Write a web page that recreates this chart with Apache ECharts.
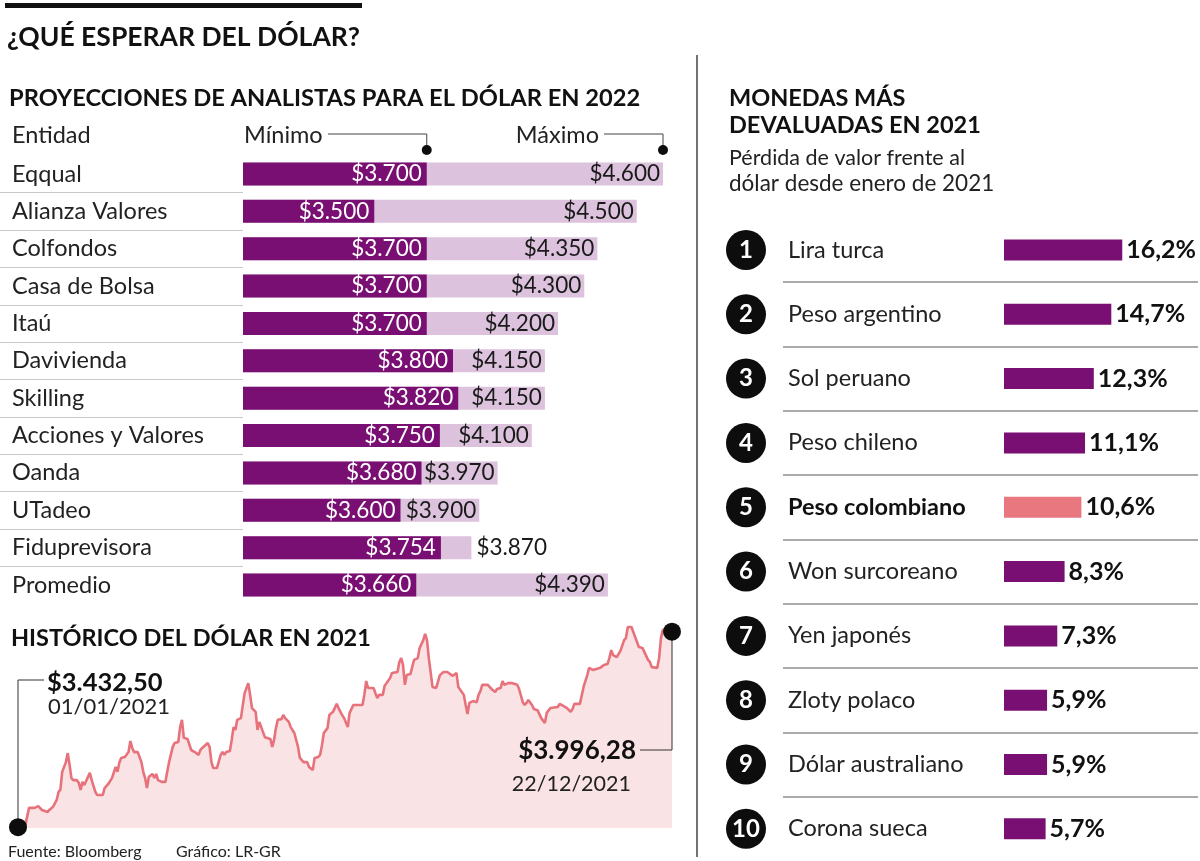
<!DOCTYPE html>
<html>
<head>
<meta charset="utf-8">
<script src="https://cdn.jsdelivr.net/npm/echarts@6/dist/echarts.min.js"></script>
<style>
  html, body { margin: 0; padding: 0; background: #ffffff; }
  #chart { width: 1200px; height: 861px; }
</style>
</head>
<body>
<div id="chart"></div>
<script>
// ---------- DATA ----------
const projEntities = ['Eqqual', 'Alianza Valores', 'Colfondos', 'Casa de Bolsa', 'Itaú', 'Davivienda', 'Skilling', 'Acciones y Valores', 'Oanda', 'UTadeo', 'Fiduprevisora', 'Promedio'];
const projMin = [3700, 3500, 3700, 3700, 3700, 3800, 3820, 3750, 3680, 3600, 3754, 3660];
const projMax = [4600, 4500, 4350, 4300, 4200, 4150, 4150, 4100, 3970, 3900, 3870, 4390];

const currencies = ['Lira turca', 'Peso argentino', 'Sol peruano', 'Peso chileno', 'Peso colombiano', 'Won surcoreano', 'Yen japonés', 'Zloty polaco', 'Dólar australiano', 'Corona sueca'];
const devaluation = [16.2, 14.7, 12.3, 11.1, 10.6, 8.3, 7.3, 5.9, 5.9, 5.7];
const highlightCurrency = 'Peso colombiano';

// Historical USD/COP 2021 (day of year, value)
const histDays = [1, 5, 7, 10, 12, 14, 17, 18, 20, 21, 22, 23, 24, 25, 27, 28, 29, 30, 31, 33, 34, 35, 36, 37, 38, 40, 41, 43, 44, 47, 48, 50, 52, 54, 55, 56, 57, 59, 61, 62, 63, 64, 66, 68, 69, 70, 71, 72, 74, 75, 76, 77, 79, 81, 82, 83, 85, 86, 88, 89, 90, 91, 93, 94, 95, 97, 99, 100, 101, 104, 105, 106, 107, 109, 111, 112, 113, 114, 116, 117, 118, 119, 120, 122, 123, 124, 126, 127, 128, 130, 131, 132, 133, 135, 136, 138, 139, 140, 141, 142, 144, 145, 146, 148, 149, 150, 151, 153, 154, 156, 158, 159, 161, 162, 164, 165, 166, 167, 169, 170, 171, 172, 174, 175, 177, 178, 180, 181, 182, 183, 186, 188, 189, 190, 191, 194, 195, 196, 197, 199, 200, 203, 204, 207, 208, 209, 210, 211, 212, 214, 215, 216, 218, 219, 220, 221, 222, 223, 224, 226, 227, 228, 230, 231, 232, 234, 237, 238, 239, 240, 241, 243, 244, 245, 246, 248, 250, 251, 252, 253, 256, 257, 258, 260, 261, 263, 264, 265, 267, 269, 272, 273, 275, 276, 277, 278, 280, 281, 283, 284, 285, 287, 288, 290, 291, 294, 295, 297, 299, 301, 302, 303, 306, 307, 308, 310, 311, 313, 315, 317, 319, 321, 322, 323, 324, 326, 327, 328, 330, 331, 332, 334, 335, 336, 338, 340, 341, 343, 344, 345, 348, 349, 350, 351, 353, 356];
const histValues = [3432.5, 3439, 3488, 3488, 3493, 3482, 3476, 3482, 3491, 3488, 3511, 3534, 3540, 3592, 3620, 3646, 3612, 3574, 3568, 3568, 3560, 3540, 3563, 3554, 3551, 3589, 3568, 3534, 3525, 3525, 3545, 3557, 3574, 3606, 3592, 3618, 3632, 3635, 3649, 3681, 3661, 3649, 3649, 3620, 3592, 3574, 3545, 3577, 3586, 3574, 3586, 3568, 3563, 3563, 3592, 3620, 3664, 3675, 3678, 3721, 3742, 3690, 3687, 3684, 3655, 3649, 3641, 3655, 3661, 3675, 3664, 3620, 3603, 3603, 3641, 3649, 3641, 3649, 3652, 3684, 3721, 3713, 3742, 3747, 3747, 3819, 3848, 3814, 3776, 3765, 3713, 3736, 3733, 3692, 3690, 3687, 3664, 3684, 3718, 3742, 3744, 3756, 3747, 3736, 3721, 3721, 3704, 3664, 3632, 3620, 3620, 3606, 3597, 3632, 3635, 3641, 3669, 3704, 3718, 3756, 3759, 3765, 3788, 3776, 3755, 3747, 3721, 3762, 3765, 3785, 3785, 3785, 3814, 3854, 3834, 3834, 3819, 3805, 3814, 3814, 3840, 3863, 3877, 3880, 3909, 3920, 3900, 3843, 3871, 3874, 3871, 3915, 3920, 3949, 3952, 3972, 3990, 3972, 3920, 3837, 3834, 3834, 3871, 3866, 3880, 3880, 3869, 3869, 3877, 3837, 3840, 3814, 3785, 3759, 3791, 3796, 3793, 3814, 3825, 3843, 3843, 3837, 3831, 3822, 3831, 3834, 3854, 3843, 3848, 3848, 3843, 3831, 3793, 3785, 3791, 3799, 3785, 3773, 3770, 3765, 3747, 3733, 3762, 3776, 3776, 3779, 3788, 3782, 3776, 3765, 3773, 3788, 3788, 3793, 3837, 3871, 3892, 3886, 3889, 3892, 3900, 3903, 3920, 3943, 3929, 3923, 3920, 3941, 3972, 3978, 4010, 4010, 4007, 3981, 3952, 3949, 3944, 3915, 3909, 3894, 3892, 3920, 3978, 4001, 4004, 3996.28];
const histDateLabels = ['01/01/2021', '22/12/2021'];

// ---------- HELPERS ----------
const FONT = 'Lato, "Open Sans", sans-serif';
const DARK = '#7a0f73';
const LIGHT = '#dcc2dc';
const PINK = '#e8777f';
function thousands(s) { return s.replace(/\B(?=(\d{3})+(?!\d))/g, '.'); }
function fmtPeso(v) { return '$' + thousands(String(Math.round(v))); }
function fmtPesoDec(v) {
  const parts = v.toFixed(2).split('.');
  return '$' + thousands(parts[0]) + ',' + parts[1];
}
function fmtPct(v) { return v.toFixed(1).replace('.', ',') + '%'; }

const histData = histDays.map((d, i) => [d, histValues[i]]);
const lastIdx = histDays.length - 1;

const chart = echarts.init(document.getElementById('chart'), null, { renderer: 'canvas' });

const option = {
  animation: false,
  backgroundColor: '#ffffff',
  textStyle: { fontFamily: FONT },
  grid: [
    { left: 243, top: 155.3, width: 420, height: 448.4 },   // 0 projection bars
    { left: 0, top: 155.3, width: 243, height: 448.4 },     // 1 projection separators
    { left: 18, top: 620, width: 654, height: 208 },        // 2 history
    { left: 1004, top: 217.8, width: 189.8, height: 643.3 },// 3 currency bars
    { left: 783, top: 217.8, width: 415, height: 643.3 }    // 4 currency separators
  ],
  xAxis: [
    { gridIndex: 0, type: 'value', min: 3000, max: 4600, show: false },
    { gridIndex: 1, type: 'value', min: 0, max: 1, show: false },
    { gridIndex: 2, type: 'value', min: 1, max: 356, show: false },
    { gridIndex: 3, type: 'value', min: 0, max: 26, show: false },
    { gridIndex: 4, type: 'value', min: 0, max: 1, show: false }
  ],
  yAxis: [
    {
      gridIndex: 0, type: 'category', data: projEntities, inverse: true,
      axisLine: { show: false }, axisTick: { show: false }, splitLine: { show: false },
      axisLabel: { show: true, align: 'left', margin: 231, fontSize: 23.5, color: '#222', fontFamily: FONT }
    },
    {
      gridIndex: 1, type: 'category', data: projEntities, inverse: true,
      axisLine: { show: false }, axisTick: { show: false }, axisLabel: { show: false },
      splitLine: { show: true, showMinLine: false, showMaxLine: false, lineStyle: { color: '#c8c8c8', width: 1 } }
    },
    { gridIndex: 2, type: 'value', min: 3430, max: 4030, show: false },
    {
      gridIndex: 3, type: 'category', data: currencies, inverse: true,
      axisLine: { show: false }, axisTick: { show: false }, splitLine: { show: false },
      axisLabel: {
        show: true, align: 'left', margin: 278,
        formatter: function (value, idx) {
          const key = value === highlightCurrency ? 'nb' : 'n';
          return '{c|' + (idx + 1) + '}{' + key + '|' + value + '}';
        },
        rich: {
          c: { width: 40, height: 40, lineHeight: 40, borderRadius: 20, backgroundColor: '#0d0d0d', color: '#fff', fontWeight: 'bold', fontSize: 24, align: 'center', fontFamily: FONT },
          n: { fontSize: 23.5, color: '#222', padding: [0, 0, 0, 22], fontFamily: FONT },
          nb: { fontSize: 23.5, color: '#111', fontWeight: 'bold', padding: [0, 0, 0, 22], fontFamily: FONT }
        }
      }
    },
    {
      gridIndex: 4, type: 'category', data: currencies, inverse: true,
      axisLine: { show: false }, axisTick: { show: false }, axisLabel: { show: false },
      splitLine: { show: true, showMinLine: false, showMaxLine: false, lineStyle: { color: '#8f8f8f', width: 1.5 } }
    }
  ],
  series: [
    {
      name: 'Máximo', type: 'bar', xAxisIndex: 0, yAxisIndex: 0, barWidth: 23, barGap: '-100%',
      itemStyle: { color: LIGHT },
      data: projMax.map((v, i) => ({
        value: v,
        label: (v - projMin[i] < 200) ? { position: 'right', distance: 5 } : { position: 'insideRight', distance: 3 }
      })),
      label: { show: true, color: '#1a1a1a', fontSize: 22.5, fontFamily: FONT, formatter: p => fmtPeso(p.value) },
      z: 2
    },
    {
      name: 'Mínimo', type: 'bar', xAxisIndex: 0, yAxisIndex: 0, barWidth: 23, barGap: '-100%',
      itemStyle: { color: DARK },
      data: projMin,
      label: { show: true, position: 'insideRight', distance: 5, color: '#ffffff', fontSize: 22.5, fontFamily: FONT, formatter: p => fmtPeso(p.value) },
      z: 3
    },
    {
      name: 'Histórico', type: 'line', xAxisIndex: 2, yAxisIndex: 2, data: histData,
      showSymbol: false, symbol: 'none',
      lineStyle: { color: '#e8727b', width: 2.6 },
      areaStyle: { color: '#fae3e5', opacity: 1, origin: 'start' },
      z: 2
    },
    {
      name: 'Extremos', type: 'scatter', xAxisIndex: 2, yAxisIndex: 2,
      data: [histData[0], histData[lastIdx]],
      symbolSize: 18, itemStyle: { color: '#0d0d0d', opacity: 1 }, z: 5
    },
    {
      name: 'Devaluación', type: 'bar', xAxisIndex: 3, yAxisIndex: 3, barWidth: 21,
      data: devaluation.map((v, i) => ({
        value: v,
        itemStyle: { color: currencies[i] === highlightCurrency ? PINK : DARK }
      })),
      label: { show: true, position: 'right', distance: 4, color: '#111', fontWeight: 'bold', fontSize: 25, fontFamily: FONT, formatter: p => fmtPct(p.value) }
    }
  ]
};

chart.setOption(option);

// ---------- DECORATION / ANNOTATIONS (positions derived from the axes) ----------
const minX0 = chart.convertToPixel({ gridIndex: 0 }, [projMin[0], 0])[0];
const maxX0 = chart.convertToPixel({ gridIndex: 0 }, [projMax[0], 0])[0];
const startPt = chart.convertToPixel({ gridIndex: 2 }, histData[0]);
const endPt = chart.convertToPixel({ gridIndex: 2 }, histData[lastIdx]);

function txt(text, x, y, size, weight, align, color) {
  return {
    type: 'text', x: x, y: y, silent: true, z: 10,
    style: {
      text: text, fill: color || '#111', font: (weight || 'normal') + ' ' + size + 'px ' + FONT,
      textAlign: align || 'left', align: align || 'left', textVerticalAlign: 'middle', verticalAlign: 'middle'
    }
  };
}
function poly(points, color, w) {
  return { type: 'polyline', silent: true, z: 4, shape: { points: points }, style: { stroke: color || '#333', lineWidth: w || 1, fill: null } };
}
function dot(x, y, r) {
  return { type: 'circle', silent: true, z: 6, shape: { cx: x, cy: y, r: r }, style: { fill: '#0d0d0d' } };
}

const graphic = [
  { type: 'rect', silent: true, shape: { x: 5, y: 3, width: 357, height: 5 }, style: { fill: '#111' } },
  txt('¿QUÉ ESPERAR DEL DÓLAR?', 7, 37, 26.5, 'bold'),
  poly([[697, 55], [697, 857]], '#444', 1.5),

  txt('PROYECCIONES DE ANALISTAS PARA EL DÓLAR EN 2022', 9, 98, 23.7, 'bold'),
  txt('Entidad', 12, 135, 23.5, 'normal', 'left', '#222'),
  txt('Mínimo', 244, 135, 23.5, 'normal', 'left', '#222'),
  txt('Máximo', 599, 135, 23.5, 'normal', 'right', '#222'),
  poly([[328, 134], [minX0, 134], [minX0, 150]], '#444', 1),
  dot(minX0, 150, 5),
  poly([[604, 134], [maxX0, 134], [maxX0, 150]], '#444', 1),
  dot(maxX0, 150, 5),

  txt('HISTÓRICO DEL DÓLAR EN 2021', 11, 638, 23.5, 'bold'),
  poly([[startPt[0], startPt[1]], [startPt[0], 680], [44, 680]], '#333', 1),
  txt(fmtPesoDec(histValues[0]), 47, 683, 25.5, 'bold'),
  txt(histDateLabels[0], 48, 707, 22, 'normal', 'left', '#222'),
  poly([[endPt[0], endPt[1]], [endPt[0], 750], [640, 750]], '#333', 1),
  txt(fmtPesoDec(histValues[lastIdx]), 636, 751, 26, 'bold', 'right'),
  txt(histDateLabels[1], 631, 784, 21.5, 'normal', 'right', '#222'),

  txt('Fuente: Bloomberg', 8, 852, 16, 'normal', 'left', '#222'),
  txt('Gráfico: LR-GR', 176, 852, 16, 'normal', 'left', '#222'),

  txt('MONEDAS MÁS', 729, 98, 23.5, 'bold'),
  txt('DEVALUADAS EN 2021', 729, 125, 23.5, 'bold'),
  txt('Pérdida de valor frente al', 729, 158, 21.5, 'normal', 'left', '#222'),
  txt('dólar desde enero de 2021', 729, 184, 22.5, 'normal', 'left', '#222')
];

chart.setOption({ graphic: graphic });
</script>
</body>
</html>
